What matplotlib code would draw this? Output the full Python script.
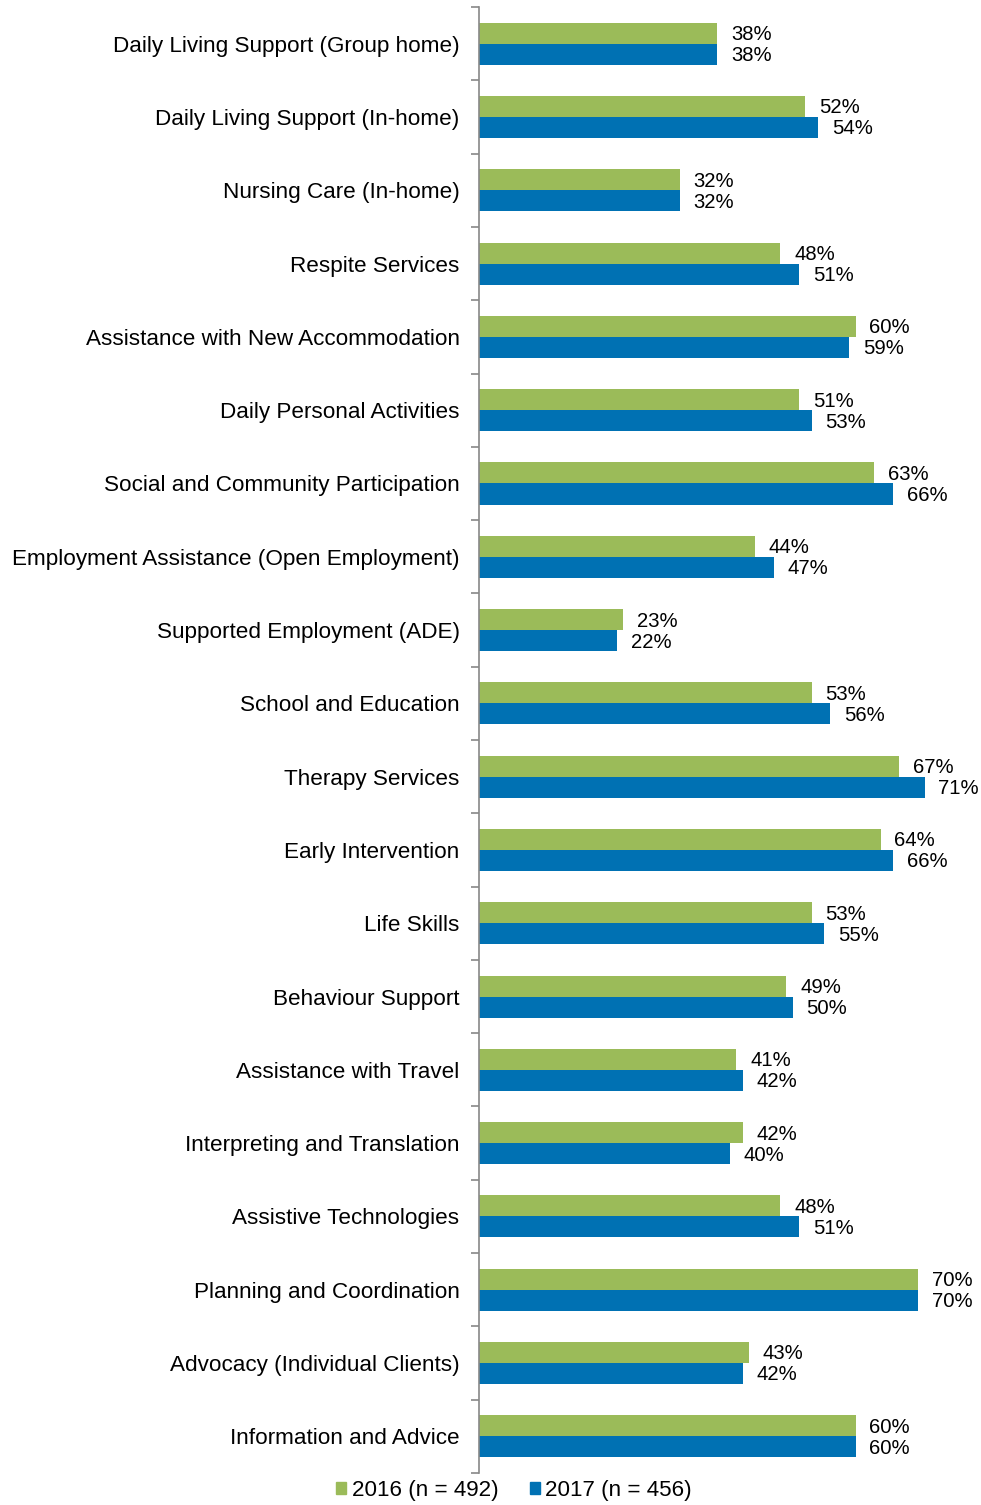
import numpy as np
import matplotlib.pyplot as plt
from matplotlib.patches import Patch

plt.rcParams['font.family'] = ['Liberation Sans', 'DejaVu Sans']

categories = [
    "Daily Living Support (Group home)",
    "Daily Living Support (In-home)",
    "Nursing Care (In-home)",
    "Respite Services",
    "Assistance with New Accommodation",
    "Daily Personal Activities",
    "Social and Community Participation",
    "Employment Assistance (Open Employment)",
    "Supported Employment (ADE)",
    "School and Education",
    "Therapy Services",
    "Early Intervention",
    "Life Skills",
    "Behaviour Support",
    "Assistance with Travel",
    "Interpreting and Translation",
    "Assistive Technologies",
    "Planning and Coordination",
    "Advocacy (Individual Clients)",
    "Information and Advice",
]
values_2016 = [38, 52, 32, 48, 60, 51, 63, 44, 23, 53, 67, 64, 53, 49, 41, 42, 48, 70, 43, 60]
values_2017 = [38, 54, 32, 51, 59, 53, 66, 47, 22, 56, 71, 66, 55, 50, 42, 40, 51, 70, 42, 60]
series_labels = ["2016 (n = 492)", "2017 (n = 456)"]

green = "#9BBB59"
blue = "#0071B3"

fig = plt.figure(figsize=(9.81, 15.05), dpi=100)
ax = fig.add_axes([0.4883, 0.0213, 0.5117, 0.974])

y = np.arange(len(categories))
h = 0.287
ax.barh(y - h / 2, values_2016, height=h, color=green)
ax.barh(y + h / 2, values_2017, height=h, color=blue)

for yi, v16, v17 in zip(y, values_2016, values_2017):
    ax.text(v16 + 2.2, yi - h / 2 + 0.02, f"{v16}%", va="center", ha="left", fontsize=14.6)
    ax.text(v17 + 2.2, yi + h / 2 + 0.02, f"{v17}%", va="center", ha="left", fontsize=14.6)

ax.set_ylim(len(categories) - 0.5, -0.5)
ax.set_xlim(0, 80)

# category names as minor ticks, separators as major ticks
ax.set_yticks(np.arange(-0.5, len(categories), 1.0))
ax.set_yticklabels([])
ax.tick_params(axis="y", which="major", length=6, color="#888888", width=1.2)
ax.set_yticks(y, minor=True)
ax.set_yticklabels(categories, minor=True, fontsize=16.2)
ax.tick_params(axis="y", which="minor", length=0, pad=14)
ax.set_xticks([])

for side in ["top", "right", "bottom"]:
    ax.spines[side].set_visible(False)
ax.spines["left"].set_color("#888888")
ax.spines["left"].set_linewidth(1.2)

handles = [Patch(color=green), Patch(color=blue)]
fig.legend(handles, series_labels, loc="center", bbox_to_anchor=(0.524, 0.0095),
           ncol=2, frameon=False, fontsize=16.1, handlelength=0.45, handleheight=0.45,
           handletextpad=0.25, columnspacing=1.4)

fig.savefig("out.png", dpi=100)
